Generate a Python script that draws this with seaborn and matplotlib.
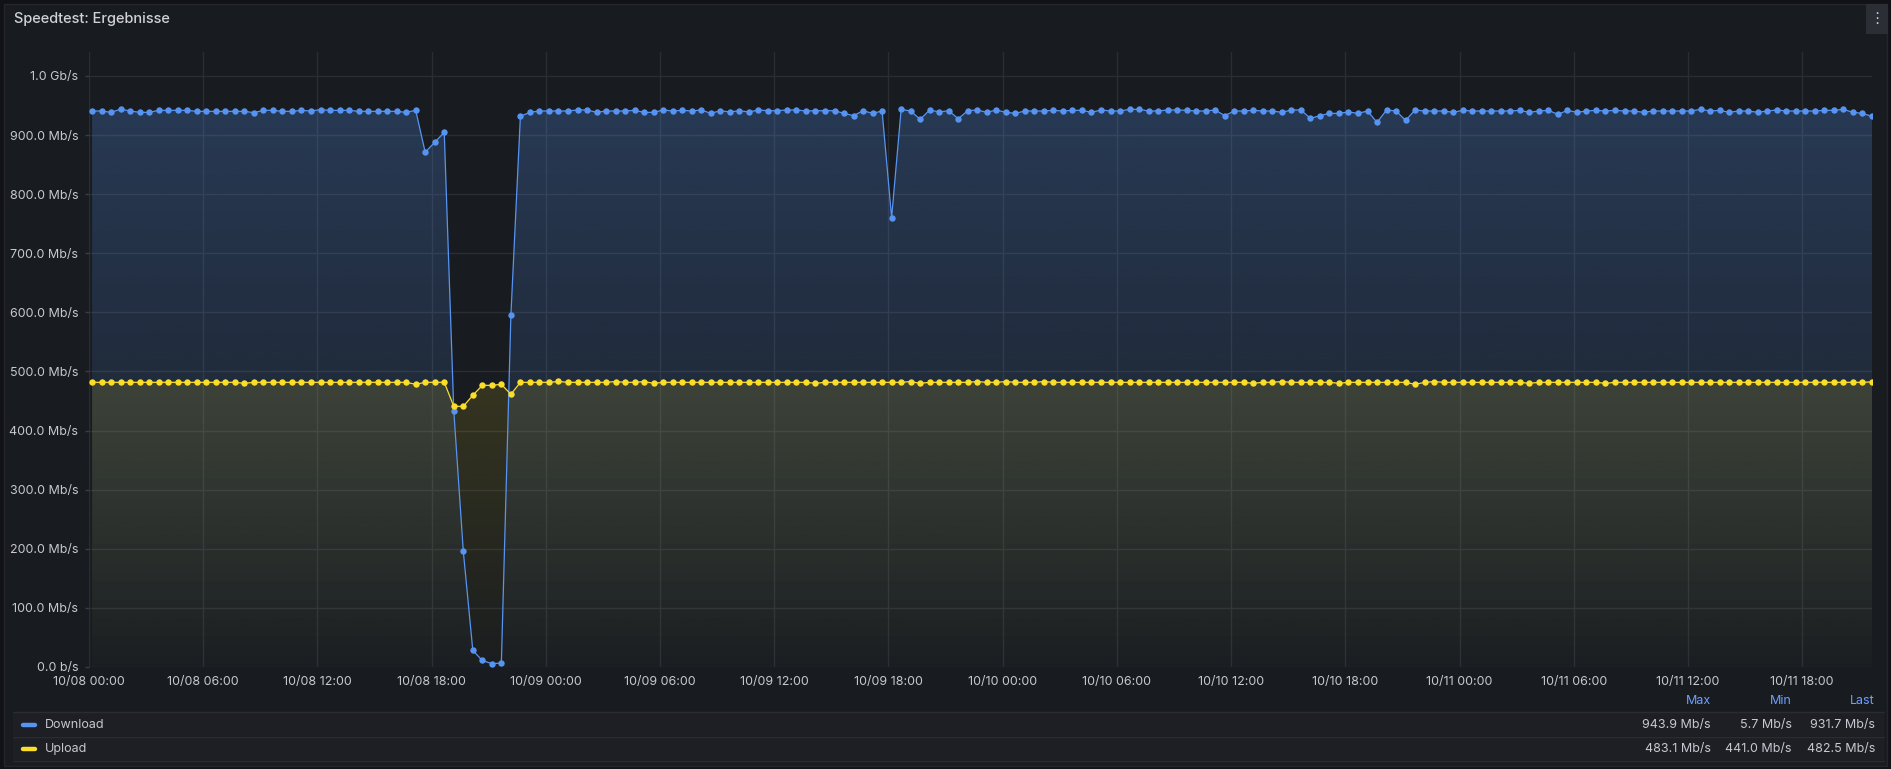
import numpy as np
import pandas as pd
import matplotlib
matplotlib.use("Agg")
import matplotlib.pyplot as plt
import matplotlib.dates as mdates
from matplotlib.ticker import FuncFormatter, FixedLocator
from matplotlib.patches import Rectangle
from matplotlib.lines import Line2D
import matplotlib.colors as mcolors
import seaborn as sns

# ---------------- data ----------------
start_time = "2023-10-08 00:10"
n_points = 188
series_names = ["Download", "Upload"]

download = [
    940.8, 940.8, 938.5, 943.9, 940.8, 938.5, 938.5, 941.9, 941.9, 941.9,
    941.9, 940.2, 940.2, 940.2, 940.2, 940.2, 940.2, 938.0, 941.9, 941.9,
    940.2, 940.2, 941.9, 940.8, 943.0, 941.9, 941.9, 941.9, 940.2, 940.2,
    940.2, 940.2, 940.2, 938.5, 941.9,
    871.0, 887.8, 904.7, 434.0, 196.0, 28.0, 11.0, 5.7, 6.5, 595.0,
    931.8, 938.5, 940.8, 940.8, 940.8, 940.8, 942.5, 942.5, 938.5, 940.8,
    940.8, 940.8, 941.9, 938.5, 938.5, 942.5, 940.8,
    941.9, 940.8, 942.5, 936.8, 941.3, 939.1, 941.3, 939.1, 942.5, 941.3,
    941.3, 942.5, 942.5, 940.8, 941.3, 941.3, 941.3, 936.8, 932.9, 941.3,
    936.8, 940.8, 760.3, 943.6, 940.8, 926.6, 942.5, 939.1, 941.3, 927.7,
    941.3, 942.5, 938.5, 942.5, 938.5, 936.8, 940.8, 940.8, 940.8, 941.9,
    940.8, 941.9, 941.9, 938.5, 942.5, 940.8, 940.8, 943.6, 943.6, 940.8,
    940.8, 942.5, 942.5, 941.9, 940.8, 940.8, 942.5, 932.9, 940.8, 940.8,
    941.9, 940.8, 940.8,
    938.5, 942.5, 942.5, 928.3, 932.9, 936.8, 936.8, 939.1, 936.8, 940.8,
    921.5, 942.5, 940.8, 924.9, 942.5, 940.8, 940.8, 940.8, 938.5, 941.9,
    940.8, 940.8, 940.8, 940.8, 940.8, 941.9, 938.5, 940.8, 941.9, 935.1,
    941.9, 938.5, 940.8, 941.9, 940.8, 941.9, 940.8, 940.8, 938.5, 940.8,
    940.8, 940.8, 940.8, 940.8, 943.6, 940.8, 941.9, 938.5, 940.8, 940.8,
    938.5, 940.8, 942.5, 940.8, 940.8, 940.8, 940.8, 941.9, 941.9, 943.6,
    938.5, 936.8, 931.7,
]

upload = [
    481.7, 481.7, 481.7, 481.7, 481.7, 481.7, 481.7, 481.7, 481.7, 481.7,
    481.7, 481.7, 481.7, 481.7, 481.7, 481.7, 480.0, 481.7, 481.7, 481.7,
    481.7, 481.7, 481.7, 481.7, 481.7, 481.7, 481.7, 481.7, 481.7, 481.7,
    481.7, 481.7, 481.7, 481.7, 478.3, 481.7, 481.7, 481.7, 441.2, 441.0,
    459.7, 476.6, 476.6, 478.3, 461.4, 481.7, 481.7, 481.7, 481.7, 483.1,
    481.7, 481.7, 481.7, 481.7, 481.7, 483.0, 481.7, 481.7, 483.0, 480.0,
    481.7, 481.7, 481.7, 481.7, 481.7, 481.7, 481.7, 481.7, 481.7, 481.7,
    481.7, 481.7, 481.7, 481.7, 481.7, 481.7, 480.0, 481.7, 481.7, 481.7,
    481.7, 481.7, 481.7, 481.7, 481.7, 481.7, 483.0, 480.0, 481.7, 481.7,
    481.7, 481.7, 481.7, 483.0, 481.7, 481.7, 483.0, 481.7, 481.7, 481.7,
    483.0, 481.7, 481.7, 481.7, 481.7, 481.7, 481.7, 481.7, 481.7, 481.7,
    481.7, 481.7, 481.7, 481.7, 481.7, 481.7, 481.7, 481.7, 481.7, 481.7,
    481.7, 481.7, 480.0, 481.7, 481.7, 483.0, 481.7, 481.7, 481.7, 481.7,
    481.7, 480.0, 481.7, 481.7, 481.7, 481.7, 481.7, 481.7, 481.7, 478.3,
    481.7, 483.0, 481.7, 481.7, 481.7, 481.7, 481.7, 481.7, 481.7, 481.7,
    481.7, 480.0, 481.7, 481.7, 481.7, 481.7, 481.7, 481.7, 481.7, 480.0,
    481.7, 481.7, 481.7, 481.7, 481.7, 481.7, 481.7, 481.7, 481.7, 481.7,
    481.7, 481.7, 481.7, 481.7, 481.7, 481.7, 481.7, 481.7, 481.7, 481.7,
    481.7, 481.7, 481.7, 481.7, 481.7, 481.7, 481.7, 482.5,
]

y_ticks = [0, 100, 200, 300, 400, 500, 600, 700, 800, 900, 1000]
stat_headers = ["Max", "Min", "Last"]
title_text = "Speedtest: Ergebnisse"

# ---------------- style ----------------
BG_OUT = "#111217"
BG_PANEL = "#181b1f"
TXT = "#c7c8d1"
BLUE = "#5794f2"
YELLOW = "#fade2a"
HEAD_BLUE = "#6e9fff"
GRID = "#2a2d32"
Y_TOP = 1040.6

sns.set_theme(style="dark")
plt.rcParams['font.family'] = ['Inter', 'DejaVu Sans']

W, H = 1891, 769
fig = plt.figure(figsize=(W / 100, H / 100), dpi=100, facecolor=BG_OUT)

def fx(px):
    return px / W

def fy(py):
    return 1 - py / H

# panel background (behind axes)
fig.patches.append(Rectangle((fx(4), fy(766)), fx(1883), 762 / H, transform=fig.transFigure,
                             facecolor=BG_PANEL, edgecolor="#24262b", lw=1, zorder=-10))
# menu button
fig.patches.append(Rectangle((fx(1866), fy(34)), fx(22), 30 / H, transform=fig.transFigure,
                             facecolor="#2b2e34", edgecolor="none", zorder=-5))
fig.text(fx(1877), fy(19), "⋮", ha="center", va="center", color=TXT, fontsize=11,
         family=['DejaVu Sans'])

fig.text(fx(14), fy(19), title_text, ha="left", va="center", color="#d0d1d9",
         fontsize=10.5, fontweight="medium")

times = pd.date_range(start_time, periods=n_points, freq="30min")
df = pd.DataFrame({"time": times, series_names[0]: download, series_names[1]: upload})

ax = fig.add_axes([fx(88.9), fy(667), (1872 - 88.9) / W, (667 - 52) / H])
ax.set_facecolor("none")
ax.patch.set_alpha(0)
for s in ax.spines.values():
    s.set_visible(False)

x0 = mdates.date2num(times[0].to_pydatetime())
x1 = mdates.date2num(times[-1].to_pydatetime())


def grad_fill(values, color, z):
    poly = ax.fill_between(df["time"], values, 0, facecolor="none", edgecolor="none", zorder=z)
    rgb = mcolors.to_rgb(color)
    n = 256
    img = np.zeros((n, 1, 4))
    img[:, 0, 0] = rgb[0]
    img[:, 0, 1] = rgb[1]
    img[:, 0, 2] = rgb[2]
    img[:, 0, 3] = 0.015 + 0.26 * np.linspace(0, 1, n)
    im = ax.imshow(img, extent=[x0, x1, 0, Y_TOP], origin="lower", aspect="auto",
                   zorder=z, interpolation="bilinear")
    im.set_clip_path(poly.get_paths()[0], transform=ax.transData)


grad_fill(df["Download"], BLUE, 1.0)
grad_fill(df["Upload"], YELLOW, 1.1)

sns.lineplot(data=df, x="time", y="Download", ax=ax, color=BLUE, linewidth=0.9,
             marker="o", markersize=4.6, markeredgewidth=0, legend=False, zorder=3)
sns.lineplot(data=df, x="time", y="Upload", ax=ax, color=YELLOW, linewidth=0.9,
             marker="o", markersize=4.6, markeredgewidth=0, legend=False, zorder=3.1)

ax.set_xlim(pd.Timestamp("2023-10-08 00:00"), times[-1])
ax.set_ylim(0, Y_TOP)
ax.set_xlabel("")
ax.set_ylabel("")


def yfmt(v, pos):
    if v == 0:
        return "0.0 b/s"
    if v >= 1000:
        return f"{v / 1000:.1f} Gb/s"
    return f"{v:.1f} Mb/s"


ax.yaxis.set_major_locator(FixedLocator(y_ticks))
ax.yaxis.set_major_formatter(FuncFormatter(yfmt))
ax.xaxis.set_major_locator(mdates.HourLocator(byhour=[0, 6, 12, 18]))
ax.xaxis.set_major_formatter(mdates.DateFormatter("%m/%d %H:%M"))

ax.grid(True, color=GRID, linewidth=1, zorder=0)
ax.set_axisbelow(True)
ax.tick_params(axis="y", which="major", left=True, length=3, width=1, color="#3a3d44",
               pad=4.5, labelsize=9, labelcolor=TXT)
ax.tick_params(axis="x", which="major", bottom=False, length=0, pad=6.5,
               labelsize=9, labelcolor=TXT)

# ---------------- legend table ----------------
for top, bot in [(712, 736), (737, 760)]:
    fig.patches.append(Rectangle((fx(13), fy(bot)), (1884 - 13) / W, (bot - top) / H,
                                 transform=fig.transFigure, facecolor="#1d1f24",
                                 edgecolor="none", zorder=-5))
for yy in [712, 736.5, 760.5]:
    fig.add_artist(Line2D([fx(13), fx(1884)], [fy(yy), fy(yy)], color="#2a2c32", lw=1,
                          zorder=-4))

col_right = [1710.7, 1791.7, 1875]
for hdr, xr in zip(stat_headers, col_right):
    fig.text(fx(xr), fy(701), hdr, ha="right", va="center", color=HEAD_BLUE, fontsize=9)

rows = [(series_names[0], download, BLUE, 725), (series_names[1], upload, YELLOW, 749)]
for name, vals, col, yy in rows:
    fig.add_artist(Line2D([fx(23), fx(35)], [fy(yy), fy(yy)], color=col, lw=3.2,
                          solid_capstyle="round"))
    fig.text(fx(44.5), fy(yy), name, ha="left", va="center", color=TXT, fontsize=9)
    stats = [max(vals), min(vals), vals[-1]]
    for sv, xr in zip(stats, col_right):
        fig.text(fx(xr), fy(yy), f"{sv:.1f} Mb/s", ha="right", va="center",
                 color=TXT, fontsize=9)

fig.savefig("out.png", dpi=100, facecolor=BG_OUT)
